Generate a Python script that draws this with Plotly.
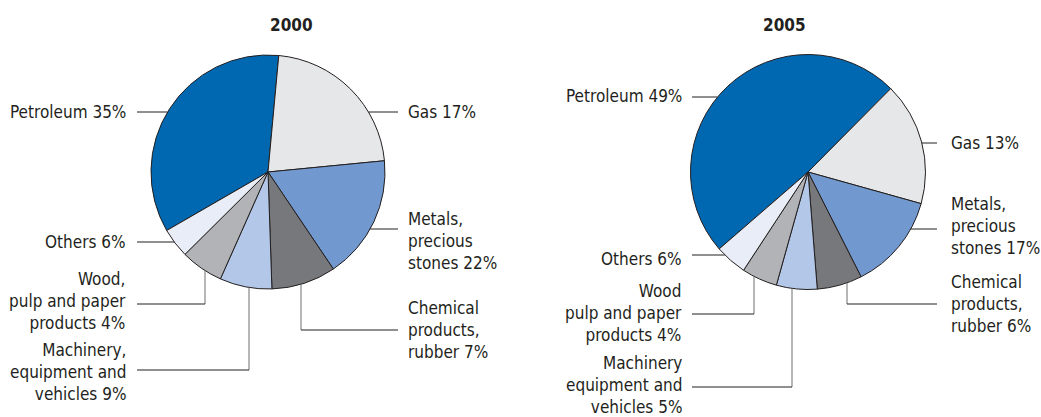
import math
import plotly.graph_objects as go

# slice order: clockwise, starting with Petroleum
categories = ["Petroleum", "Gas", "Metals, precious stones", "Chemical products, rubber",
              "Machinery, equipment and vehicles", "Wood, pulp and paper products", "Others"]

# shares as drawn (degrees of each wedge, in %)
shares_2000 = [34.8, 22.0, 17.1, 8.9, 7.2, 5.9, 4.1]
shares_2005 = [48.8, 16.9, 13.2, 6.2, 5.6, 4.9, 4.4]

# label texts exactly as printed
labels_2000 = ["Petroleum 35%", "Gas 17%", "Metals,<br>precious<br>stones 22%",
               "Chemical<br>products,<br>rubber 7%", "Machinery,<br>equipment and<br>vehicles 9%",
               "Wood,<br>pulp and paper<br>products 4%", "Others 6%"]
labels_2005 = ["Petroleum 49%", "Gas 13%", "Metals,<br>precious<br>stones 17%",
               "Chemical<br>products,<br>rubber 6%", "Machinery<br>equipment and<br>vehicles 5%",
               "Wood<br>pulp and paper<br>products 4%", "Others 6%"]

colors = ["#0067b1", "#e6e7e8", "#7199cf", "#77787b", "#b3c7e8", "#b1b3b6", "#e8edf7"]

W, H = 1041, 417
FONT = "DejaVu Sans Condensed, DejaVu Sans, sans-serif"
INK = "#231f20"

# layout of each pie (pixels): centre, radius, start angle, label columns,
# and per label: side, text y, leader y, elbow x
pies = [
    dict(title="2000", values=shares_2000, labels=labels_2000,
         cx=268, cy=172, r=117, rot=240,
         ltext=128, lline=137, rline=398, rtext=406,
         place=[("L", 112, 112, None), ("R", 112, 112, None), ("R", 241, 229, None),
                ("R", 330, 330, 301), ("L", 372, 370, 249), ("L", 301, 304, 205),
                ("L", 242, 242, None)]),
    dict(title="2005", values=shares_2005, labels=labels_2005,
         cx=808, cy=172, r=117.5, rot=229.1,
         ltext=684, lline=692, rline=937, rtext=949,
         place=[("L", 96, 97, None), ("R", 143, 143, None), ("R", 226, 229, None),
                ("R", 304, 304, 847), ("L", 385, 387, 792), ("L", 313, 314, 754),
                ("L", 259, 255, None)]),
]


def px(x):
    return x / W


def py(y):
    return 1 - y / H


fig = go.Figure()
shapes = []
annotations = []

for p in pies:
    cx, cy, r = p["cx"], p["cy"], p["r"]
    fig.add_trace(go.Pie(
        labels=categories, values=p["values"], sort=False, direction="clockwise",
        rotation=p["rot"], textinfo="none", hoverinfo="label+percent",
        marker=dict(colors=colors, line=dict(color=INK, width=1)),
        domain=dict(x=[px(cx - r), px(cx + r)], y=[py(cy + r), py(cy - r)]),
        showlegend=False,
    ))
    annotations.append(dict(x=px(cx), y=py(25), xref="paper", yref="paper", text="<b>%s</b>" % p["title"],
                            showarrow=False, yanchor="middle",
                            font=dict(family=FONT, size=17, color=INK)))
    for text, (side, ty, ly, ex) in zip(p["labels"], p["place"]):
        left = side == "L"
        tx = p["ltext"] if left else p["rtext"]
        lx = p["lline"] if left else p["rline"]
        annotations.append(dict(x=px(tx), y=py(ty), xref="paper", yref="paper", text=text,
                                showarrow=False, xanchor="right" if left else "left",
                                align="right" if left else "left", yanchor="middle",
                                font=dict(family=FONT, size=17, color=INK)))
        if ex is None:
            dx = math.sqrt(r * r - (ly - cy) ** 2)
            x_edge = cx - dx if left else cx + dx
            shapes.append(dict(type="line", xref="paper", yref="paper", x0=px(lx), x1=px(x_edge),
                               y0=py(ly), y1=py(ly), line=dict(color=INK, width=1)))
        else:
            y_edge = cy + math.sqrt(r * r - (ex - cx) ** 2)
            shapes.append(dict(type="line", xref="paper", yref="paper", x0=px(ex), x1=px(ex),
                               y0=py(y_edge), y1=py(ly), line=dict(color="#6d6e71", width=1)))
            shapes.append(dict(type="line", xref="paper", yref="paper", x0=px(ex), x1=px(lx),
                               y0=py(ly), y1=py(ly), line=dict(color=INK, width=1)))

fig.update_layout(
    width=W, height=H,
    margin=dict(l=0, r=0, t=0, b=0),
    paper_bgcolor="white", plot_bgcolor="white",
    shapes=shapes, annotations=annotations,
    font=dict(family=FONT, color=INK),
)

# drop the browser's default 8px page margin so the figure fills the window
fig.write_html("out.html", config={"displayModeBar": False},
               post_script="document.body.style.margin='0';")
